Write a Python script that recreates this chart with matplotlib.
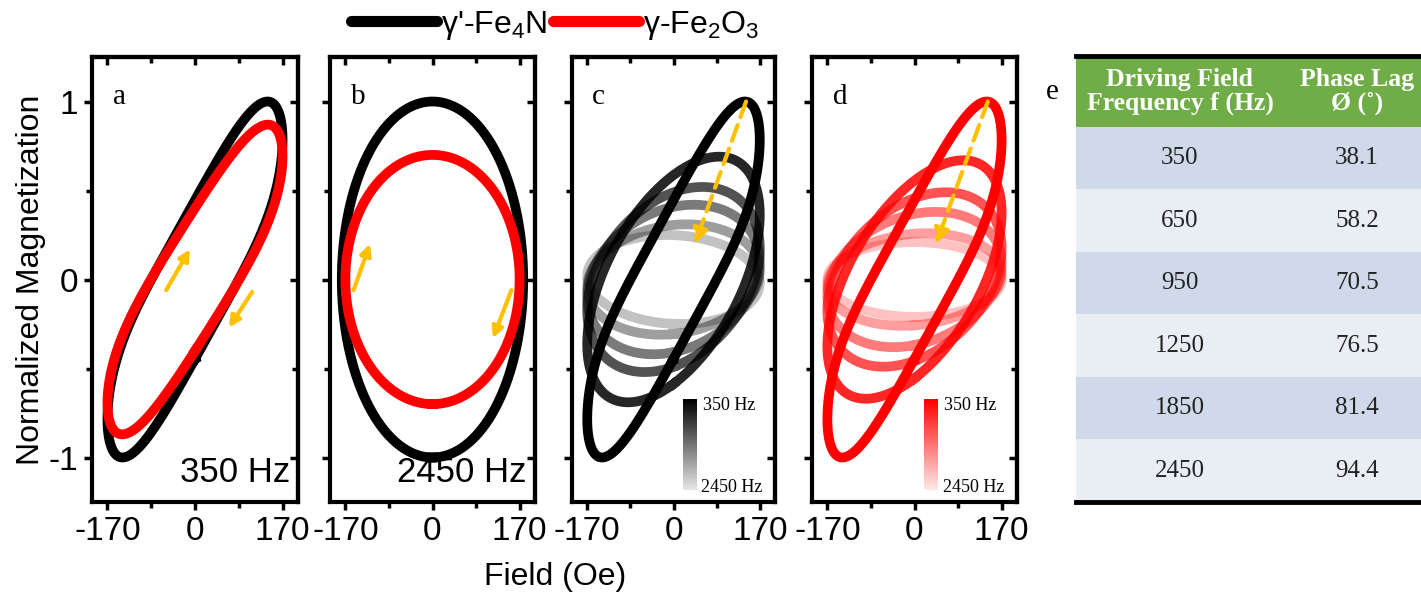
import matplotlib
matplotlib.use("Agg")
import matplotlib.pyplot as plt
import numpy as np
from matplotlib.lines import Line2D
from matplotlib.patches import Rectangle
from matplotlib.colors import LinearSegmentedColormap

plt.rcParams["font.family"] = ["Liberation Sans", "DejaVu Sans"]
plt.rcParams["mathtext.fontset"] = "custom"
plt.rcParams["mathtext.rm"] = "Liberation Sans"
plt.rcParams["axes.unicode_minus"] = False

# table e: driving field frequency (Hz) and phase lag (deg)
FREQS = [350, 650, 950, 1250, 1850, 2450]
PHASE_LAG = [38.1, 58.2, 70.5, 76.5, 81.4, 94.4]

# loops read off panels c / d (peak M normalized to the 350 Hz loop,
# fundamental phase in deg)
AMP_FE4N = [1.0, 0.69, 0.52, 0.42, 0.31, 0.25]
PHASE_FE4N = [31.5, 58.2, 70.5, 76.5, 81.4, 94.4]
AMP_FE2O3 = [1.0, 0.67, 0.49, 0.38, 0.26, 0.21]
PHASE_FE2O3 = [31.5, 56.0, 69.0, 76.0, 82.0, 90.0]
# 3rd harmonic (relative amplitude, phase deg): only the 350 Hz loops show it
H3_AMP = [0.058, 0, 0, 0, 0, 0]
H3_PHASE = [-63.0, 0, 0, 0, 0, 0]
ALPHAS = [1.0, 0.85, 0.68, 0.52, 0.38, 0.24]

# panels a / b: (peak M, phase, field amplitude Oe)
A_FE4N = (1.0, 31.5, 170)
A_FE2O3 = (0.87, 31.5, 170)
B_FE4N = (1.0, 90.0, 177)
B_FE2O3 = (0.70, 90.0, 170)
H_AMP = 170.0

ORANGE = "#FFC000"
LW = 7


def loop(amp, phase, hamp=H_AMP, h3=0.0, psi=0.0):
    t = np.linspace(0, 2 * np.pi, 720)
    h = hamp * np.sin(t)
    m = np.sin(t - np.deg2rad(phase)) + h3 * np.sin(3 * t - np.deg2rad(psi))
    m = amp * m / np.abs(m).max()
    return np.append(h, h[0]), np.append(m, m[0])


def style(ax, ylabels=False):
    ax.set_xlim(-200, 200)
    ax.set_ylim(-1.25, 1.25)
    ax.set_xticks([-170, 0, 170])
    ax.set_xticks([-85, 85], minor=True)
    ax.set_yticks([-1, 0, 1])
    ax.set_yticks([-0.5, 0.5], minor=True)
    for s in ax.spines.values():
        s.set_linewidth(3)
    ax.tick_params(which="major", direction="out", length=6, width=2.5,
                   labelsize=24, pad=4)
    ax.tick_params(which="minor", direction="out", length=4, width=2.5)
    if not ylabels:
        ax.set_yticklabels([])
    top = ax.secondary_xaxis("top")
    top.set_xticks([-170, 0, 170])
    top.set_xticks([-85, 85], minor=True)
    top.tick_params(which="both", direction="in", width=2.5, labeltop=False)
    top.tick_params(which="major", length=6)
    top.tick_params(which="minor", length=4)
    top.spines["top"].set_linewidth(3)
    right = ax.secondary_yaxis("right")
    right.set_yticks([-1, 0, 1])
    right.set_yticks([-0.5, 0.5], minor=True)
    right.tick_params(which="both", direction="in", width=2.5, labelright=False)
    right.tick_params(which="major", length=6)
    right.tick_params(which="minor", length=4)
    right.spines["right"].set_linewidth(3)


def arrow(ax, start, end, dashed=False):
    props = dict(arrowstyle="-|>", color=ORANGE, lw=3, mutation_scale=16,
                 shrinkA=0, shrinkB=0)
    if dashed:
        props["ls"] = (0, (4, 2))
        props["mutation_scale"] = 22
    ax.annotate("", xy=end, xytext=start, arrowprops=props)


W, H = 1421, 593
fig = plt.figure(figsize=(W / 100, H / 100), dpi=100)
bot, hgt = (H - 502) / H, (502 - 57) / H
ax_a = fig.add_axes([92 / W, bot, 206 / W, hgt])
ax_b = fig.add_axes([330 / W, bot, 205 / W, hgt])
ax_c = fig.add_axes([572 / W, bot, 203 / W, hgt])
ax_d = fig.add_axes([812 / W, bot, 205 / W, hgt])

# panel a
h, m = loop(*A_FE4N, h3=H3_AMP[0], psi=H3_PHASE[0])
ax_a.plot(h, m, color="black", lw=LW)
h, m = loop(*A_FE2O3, h3=H3_AMP[0] * 0.8, psi=H3_PHASE[0])
ax_a.plot(h, m, color="red", lw=LW)
arrow(ax_a, (-56, -0.06), (-10, 0.17))
arrow(ax_a, (111, -0.07), (66, -0.27))
ax_a.text(0.96, 0.03, "350 Hz", transform=ax_a.transAxes, ha="right",
          va="bottom", fontsize=25)

# panel b
h, m = loop(*B_FE4N)
ax_b.plot(h, m, color="black", lw=LW)
h, m = loop(*B_FE2O3)
ax_b.plot(h, m, color="red", lw=LW)
arrow(ax_b, (-154, -0.06), (-122, 0.2))
arrow(ax_b, (154, -0.06), (118, -0.33))
ax_b.text(0.96, 0.03, "2450 Hz", transform=ax_b.transAxes, ha="right",
          va="bottom", fontsize=25)

# panels c, d
for ax, amps, phases, col, cend in [
        (ax_c, AMP_FE4N, PHASE_FE4N, "black", "#e6e6e6"),
        (ax_d, AMP_FE2O3, PHASE_FE2O3, "red", "#ffe8e8")]:
    for i in range(len(FREQS) - 1, -1, -1):
        h, m = loop(amps[i], phases[i], h3=H3_AMP[i], psi=H3_PHASE[i])
        ax.plot(h, m, color=col, lw=LW, alpha=ALPHAS[i])
    arrow(ax, (143, 1.0), (42, 0.2), dashed=True)
    cmap = LinearSegmentedColormap.from_list("g", [cend, col])
    grad = np.linspace(0, 1, 100).reshape(-1, 1)
    ax.imshow(grad, cmap=cmap, origin="lower", aspect="auto",
              extent=(18, 45, -1.18, -0.67), zorder=3)
    ax.text(58, -0.71, f"{FREQS[0]} Hz", family="Liberation Serif",
            fontsize=13, va="center", ha="left")
    ax.text(55, -1.17, f"{FREQS[-1]} Hz", family="Liberation Serif",
            fontsize=13, va="center", ha="left")

for ax, lab in zip([ax_a, ax_b, ax_c, ax_d], "abcd"):
    style(ax, ylabels=(ax is ax_a))
    ax.text(0.1, 0.94, lab, transform=ax.transAxes, family="Liberation Serif",
            fontsize=21, va="top", ha="left")

ax_a.set_ylabel("Normalized Magnetization", fontsize=23, labelpad=2)
fig.text(555 / W, 1 - 577 / H, "Field (Oe)", fontsize=23, ha="center",
         va="center")

handles = [Line2D([], [], color="black", lw=8, solid_capstyle="round"),
           Line2D([], [], color="red", lw=8, solid_capstyle="round")]
fig.legend(handles, ["γ'-Fe$_4$N", "γ-Fe$_2$O$_3$"], loc="center",
           bbox_to_anchor=(555 / W, 1 - 25 / H), ncol=2, frameon=False,
           fontsize=23, handlelength=2.7, handletextpad=0.1,
           columnspacing=0.2)

# table e
tab = fig.add_axes([1076 / W, bot, 354 / W, (502 - 56) / H])
tab.set_xlim(0, 354)
n = len(FREQS)
head = 1.13
tab.set_ylim(0, n + head)
tab.axis("off")
row_cols = ["#CFD9EA", "#E9EDF4"]
for i, (f, p) in enumerate(zip(FREQS, PHASE_LAG)):
    y = n - 1 - i
    tab.add_patch(Rectangle((0, y), 354, 1, color=row_cols[i % 2], lw=0))
    tab.text(104, y + 0.5, str(f), ha="center", va="center",
             family="Liberation Serif", fontsize=18, color="#222222")
    tab.text(281, y + 0.5, f"{p:.1f}", ha="center", va="center",
             family="Liberation Serif", fontsize=18, color="#222222")
tab.add_patch(Rectangle((0, n), 354, head, color="#70AD47", lw=0))
tab.text(104, n + head / 2, "Driving Field\nFrequency f (Hz)", ha="center",
         va="center", family="Liberation Serif", fontsize=18.5,
         fontweight="bold", color="white", linespacing=1.05)
tab.text(281, n + head / 2, "Phase Lag\nØ (˚)", ha="center", va="center",
         family="Liberation Serif", fontsize=18.5, fontweight="bold",
         color="white", linespacing=1.05)
tab.axhline(n + head, color="black", lw=3.5, clip_on=False)
tab.axhline(0, color="black", lw=3.5, clip_on=False)
fig.text(1052 / W, 1 - 92 / H, "e", family="Liberation Serif", fontsize=21,
         ha="center", va="center")

fig.savefig("out.png", dpi=100)
